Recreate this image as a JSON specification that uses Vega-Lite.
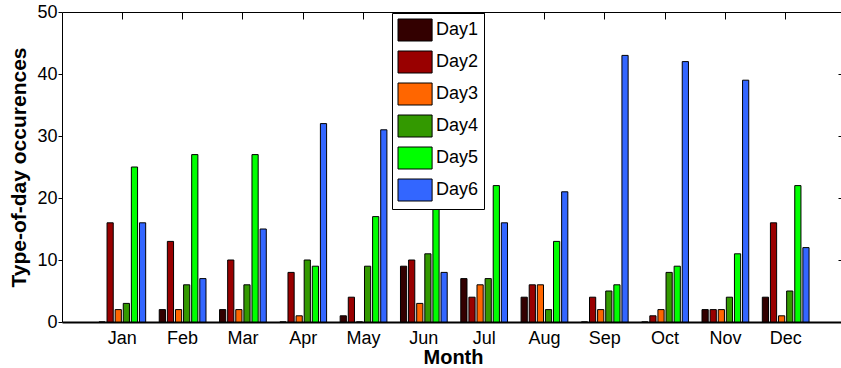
{
  "$schema": "https://vega.github.io/schema/vega-lite/v6.json",
  "autosize": {"type": "none"},
  "padding": {"left": 62, "top": 12, "right": 0, "bottom": 46},
  "width": 779,
  "height": 310,
  "background": "white",
  "config": {
    "font": "Liberation Sans",
    "view": {"stroke": null},
    "axis": {"labelColor": "black", "titleColor": "black", "tickColor": "black", "domainColor": "black", "domainWidth": 1, "grid": false},
    "legend": {
      "orient": "none", "legendX": 330, "legendY": 1,
      "strokeColor": "black", "fillColor": "white", "padding": 5.5,
      "symbolType": "M-1,-1H2.1V1H-1Z", "symbolSize": 484,
      "symbolStrokeColor": "black", "symbolStrokeWidth": 1, "symbolOpacity": 1,
      "labelFontSize": 18, "labelOffset": 15.5, "labelColor": "black", "rowPadding": 5
    }
  },
  "data": {"values": [
    {"Month": "Jan", "Day": "Day1", "Count": 0}, {"Month": "Jan", "Day": "Day2", "Count": 16}, {"Month": "Jan", "Day": "Day3", "Count": 2}, {"Month": "Jan", "Day": "Day4", "Count": 3}, {"Month": "Jan", "Day": "Day5", "Count": 25}, {"Month": "Jan", "Day": "Day6", "Count": 16},
    {"Month": "Feb", "Day": "Day1", "Count": 2}, {"Month": "Feb", "Day": "Day2", "Count": 13}, {"Month": "Feb", "Day": "Day3", "Count": 2}, {"Month": "Feb", "Day": "Day4", "Count": 6}, {"Month": "Feb", "Day": "Day5", "Count": 27}, {"Month": "Feb", "Day": "Day6", "Count": 7},
    {"Month": "Mar", "Day": "Day1", "Count": 2}, {"Month": "Mar", "Day": "Day2", "Count": 10}, {"Month": "Mar", "Day": "Day3", "Count": 2}, {"Month": "Mar", "Day": "Day4", "Count": 6}, {"Month": "Mar", "Day": "Day5", "Count": 27}, {"Month": "Mar", "Day": "Day6", "Count": 15},
    {"Month": "Apr", "Day": "Day1", "Count": 0}, {"Month": "Apr", "Day": "Day2", "Count": 8}, {"Month": "Apr", "Day": "Day3", "Count": 1}, {"Month": "Apr", "Day": "Day4", "Count": 10}, {"Month": "Apr", "Day": "Day5", "Count": 9}, {"Month": "Apr", "Day": "Day6", "Count": 32},
    {"Month": "May", "Day": "Day1", "Count": 1}, {"Month": "May", "Day": "Day2", "Count": 4}, {"Month": "May", "Day": "Day3", "Count": 0}, {"Month": "May", "Day": "Day4", "Count": 9}, {"Month": "May", "Day": "Day5", "Count": 17}, {"Month": "May", "Day": "Day6", "Count": 31},
    {"Month": "Jun", "Day": "Day1", "Count": 9}, {"Month": "Jun", "Day": "Day2", "Count": 10}, {"Month": "Jun", "Day": "Day3", "Count": 3}, {"Month": "Jun", "Day": "Day4", "Count": 11}, {"Month": "Jun", "Day": "Day5", "Count": 19}, {"Month": "Jun", "Day": "Day6", "Count": 8},
    {"Month": "Jul", "Day": "Day1", "Count": 7}, {"Month": "Jul", "Day": "Day2", "Count": 4}, {"Month": "Jul", "Day": "Day3", "Count": 6}, {"Month": "Jul", "Day": "Day4", "Count": 7}, {"Month": "Jul", "Day": "Day5", "Count": 22}, {"Month": "Jul", "Day": "Day6", "Count": 16},
    {"Month": "Aug", "Day": "Day1", "Count": 4}, {"Month": "Aug", "Day": "Day2", "Count": 6}, {"Month": "Aug", "Day": "Day3", "Count": 6}, {"Month": "Aug", "Day": "Day4", "Count": 2}, {"Month": "Aug", "Day": "Day5", "Count": 13}, {"Month": "Aug", "Day": "Day6", "Count": 21},
    {"Month": "Sep", "Day": "Day1", "Count": 0}, {"Month": "Sep", "Day": "Day2", "Count": 4}, {"Month": "Sep", "Day": "Day3", "Count": 2}, {"Month": "Sep", "Day": "Day4", "Count": 5}, {"Month": "Sep", "Day": "Day5", "Count": 6}, {"Month": "Sep", "Day": "Day6", "Count": 43},
    {"Month": "Oct", "Day": "Day1", "Count": 0}, {"Month": "Oct", "Day": "Day2", "Count": 1}, {"Month": "Oct", "Day": "Day3", "Count": 2}, {"Month": "Oct", "Day": "Day4", "Count": 8}, {"Month": "Oct", "Day": "Day5", "Count": 9}, {"Month": "Oct", "Day": "Day6", "Count": 42},
    {"Month": "Nov", "Day": "Day1", "Count": 2}, {"Month": "Nov", "Day": "Day2", "Count": 2}, {"Month": "Nov", "Day": "Day3", "Count": 2}, {"Month": "Nov", "Day": "Day4", "Count": 4}, {"Month": "Nov", "Day": "Day5", "Count": 11}, {"Month": "Nov", "Day": "Day6", "Count": 39},
    {"Month": "Dec", "Day": "Day1", "Count": 4}, {"Month": "Dec", "Day": "Day2", "Count": 16}, {"Month": "Dec", "Day": "Day3", "Count": 1}, {"Month": "Dec", "Day": "Day4", "Count": 5}, {"Month": "Dec", "Day": "Day5", "Count": 22}, {"Month": "Dec", "Day": "Day6", "Count": 12}
  ]},
  "layer": [
    {
      "mark": {"type": "bar", "stroke": "black", "strokeWidth": 1},
      "encoding": {
        "x": {"field": "Month", "type": "nominal",
          "sort": ["Jan","Feb","Mar","Apr","May","Jun","Jul","Aug","Sep","Oct","Nov","Dec"],
          "scale": {"range": [0, 784], "paddingInner": 0.225, "paddingOuter": 0.6125},
          "axis": {"orient": "bottom", "ticks": false, "labelPadding": 7, "labelFontSize": 18, "labelAngle": 0,
            "title": "Month", "titleFontSize": 20, "titleFontWeight": "bold", "titlePadding": 0,
            "titleX": 391, "titleAnchor": "middle",
            "domain": true, "domainWidth": 2}},
        "xOffset": {"field": "Day", "type": "nominal", "scale": {"paddingInner": 0.235, "paddingOuter": 0}},
        "y": {"field": "Count", "type": "quantitative",
          "scale": {"domain": [0, 50], "nice": false},
          "axis": {"orient": "left", "values": [0, 10, 20, 30, 40, 50], "tickSize": 4, "labelPadding": 1, "labelFontSize": 18,
            "title": "Type-of-day occurences", "titleFontSize": 21, "titleFontWeight": "bold", "titlePadding": 7, "domain": true}},
        "color": {"field": "Day", "type": "nominal", "title": null,
          "scale": {"domain": ["Day1","Day2","Day3","Day4","Day5","Day6"],
            "range": ["#330000","#990000","#ff6600","#339900","#00ff00","#3366ff"]}}
      }
    },
    {
      "mark": {"type": "bar", "opacity": 0, "strokeOpacity": 0},
      "encoding": {
        "x": {"field": "Month", "type": "nominal",
          "sort": ["Jan","Feb","Mar","Apr","May","Jun","Jul","Aug","Sep","Oct","Nov","Dec"],
          "scale": {"range": [0, 784], "paddingInner": 0.225, "paddingOuter": 0.6125},
          "axis": {"orient": "top", "labels": false, "tickSize": -7, "domain": true, "title": null}},
        "y": {"field": "Count", "type": "quantitative",
          "scale": {"domain": [0, 50], "nice": false},
          "axis": {"orient": "right", "labels": false, "values": [0, 10, 20, 30, 40, 50], "tickSize": -7, "offset": 4, "domain": false, "title": null}}
      }
    }
  ],
  "resolve": {"axis": {"x": "independent", "y": "independent"}}
}
